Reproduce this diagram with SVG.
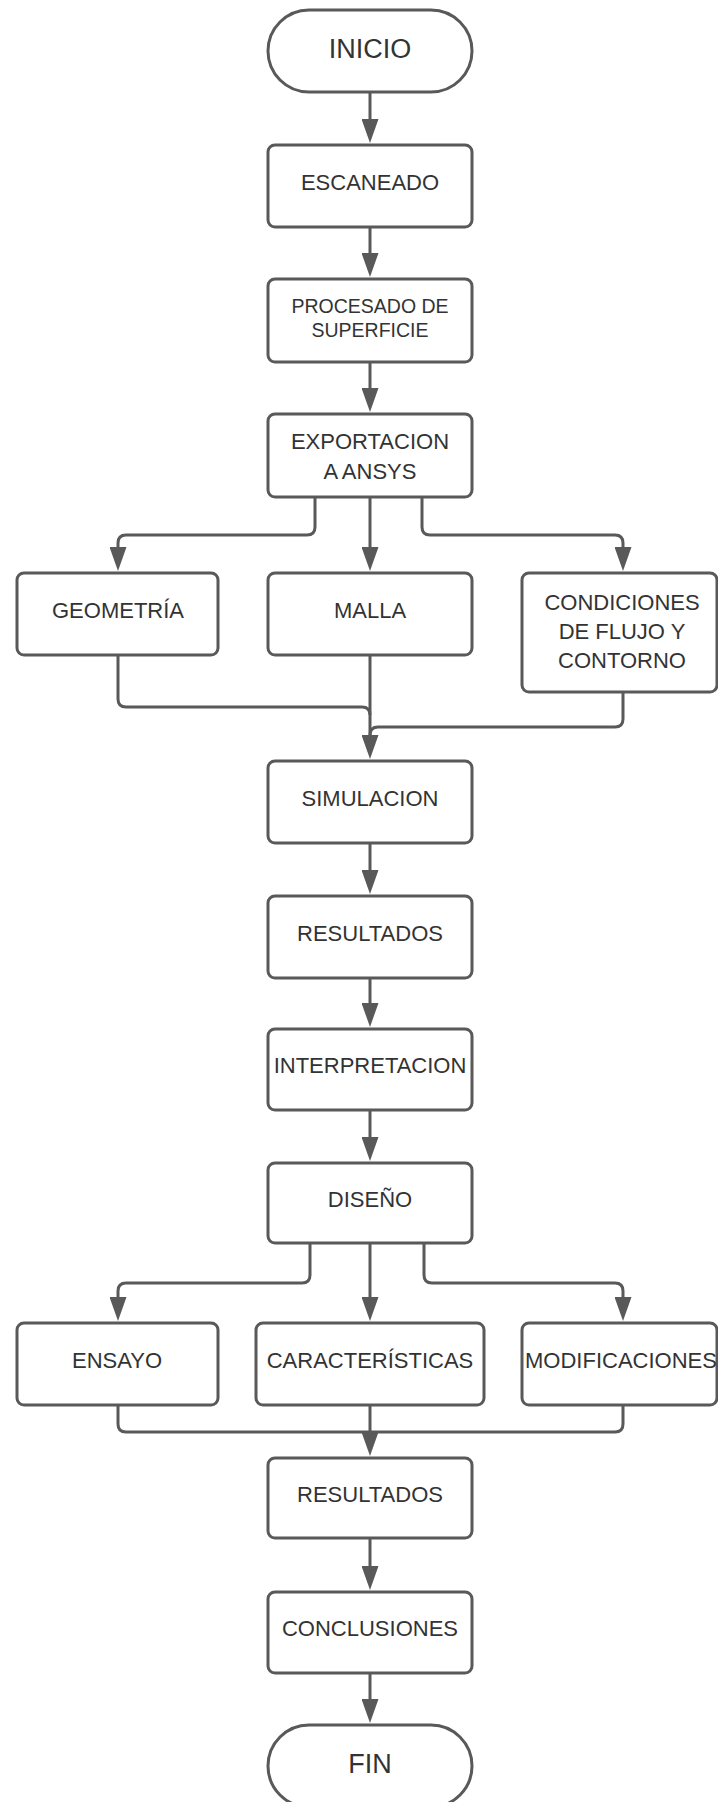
<svg xmlns="http://www.w3.org/2000/svg" width="718" height="1802" viewBox="0 0 718 1802">
<style>
.n{fill:#ffffff;stroke:#595959;stroke-width:3}
.t{font-family:"Liberation Sans",Arial,sans-serif;font-size:22px;fill:#333333;text-anchor:middle}
.tb{font-size:27px}
.ts{font-size:19.5px}
.c{fill:none;stroke:#595959;stroke-width:3}
</style>
<defs>
<marker id="ah" markerUnits="userSpaceOnUse" markerWidth="24" markerHeight="17" viewBox="0 0 24 17" refX="14" refY="8.5" orient="auto">
<path d="M0,0 L24,8.5 L0,17 z" fill="#595959"/>
</marker>
</defs>
<g id="connectors">
<path class="c" d="M370,92 V133" marker-end="url(#ah)"/>
<path class="c" d="M370,227 V267" marker-end="url(#ah)"/>
<path class="c" d="M370,362 V402" marker-end="url(#ah)"/>
<path class="c" d="M370,497 V561" marker-end="url(#ah)"/>
<path class="c" d="M315,497 V527 Q315,535 307,535 H126 Q118,535 118,543 V561" marker-end="url(#ah)"/>
<path class="c" d="M422,497 V527 Q422,535 430,535 H615 Q623,535 623,543 V561" marker-end="url(#ah)"/>
<path class="c" d="M370,655 V749" marker-end="url(#ah)"/>
<path class="c" d="M118,655 V699 Q118,707 126,707 H362 Q370,707 370,715"/>
<path class="c" d="M623,692 V719 Q623,727 615,727 H378 Q370,727 370,735"/>
<path class="c" d="M370,843 V884" marker-end="url(#ah)"/>
<path class="c" d="M370,978 V1017" marker-end="url(#ah)"/>
<path class="c" d="M370,1110 V1151" marker-end="url(#ah)"/>
<path class="c" d="M370,1243 V1311" marker-end="url(#ah)"/>
<path class="c" d="M310,1243 V1275 Q310,1283 302,1283 H126 Q118,1283 118,1291 V1311" marker-end="url(#ah)"/>
<path class="c" d="M424,1243 V1275 Q424,1283 432,1283 H615 Q623,1283 623,1291 V1311" marker-end="url(#ah)"/>
<path class="c" d="M118,1405 V1424 Q118,1432 126,1432 H615 Q623,1432 623,1424 V1405"/>
<path class="c" d="M370,1405 V1446" marker-end="url(#ah)"/>
<path class="c" d="M370,1538 V1580" marker-end="url(#ah)"/>
<path class="c" d="M370,1673 V1713" marker-end="url(#ah)"/>
</g>
<g id="inicio"><rect class="n" x="268" y="10" width="204" height="82" rx="41"/><text class="t tb" x="370" y="58">INICIO</text></g>
<g id="escaneado"><rect class="n" x="268" y="145" width="204" height="82" rx="7"/><text class="t" x="370" y="190">ESCANEADO</text></g>
<g id="procesado"><rect class="n" x="268" y="279" width="204" height="83" rx="7"/><text class="t ts" x="370" y="313">PROCESADO DE</text><text class="t ts" x="370" y="337">SUPERFICIE</text></g>
<g id="exportacion"><rect class="n" x="268" y="414" width="204" height="83" rx="7"/><text class="t" x="370" y="449">EXPORTACION</text><text class="t" x="370" y="479">A ANSYS</text></g>
<g id="geometria"><rect class="n" x="17" y="573" width="201" height="82" rx="7"/><text class="t" x="118" y="618">GEOMETRÍA</text></g>
<g id="malla"><rect class="n" x="268" y="573" width="204" height="82" rx="7"/><text class="t" x="370" y="618">MALLA</text></g>
<g id="condiciones"><rect class="n" x="522" y="573" width="195" height="119" rx="7"/><text class="t" x="622" y="610">CONDICIONES</text><text class="t" x="622" y="639">DE FLUJO Y</text><text class="t" x="622" y="668">CONTORNO</text></g>
<g id="simulacion"><rect class="n" x="268" y="761" width="204" height="82" rx="7"/><text class="t" x="370" y="806">SIMULACION</text></g>
<g id="resultados1"><rect class="n" x="268" y="896" width="204" height="82" rx="7"/><text class="t" x="370" y="941">RESULTADOS</text></g>
<g id="interpretacion"><rect class="n" x="268" y="1029" width="204" height="81" rx="7"/><text class="t" x="370" y="1073">INTERPRETACION</text></g>
<g id="diseno"><rect class="n" x="268" y="1163" width="204" height="80" rx="7"/><text class="t" x="370" y="1207">DISEÑO</text></g>
<g id="ensayo"><rect class="n" x="17" y="1323" width="201" height="82" rx="7"/><text class="t" x="117" y="1368">ENSAYO</text></g>
<g id="caracteristicas"><rect class="n" x="256" y="1323" width="228" height="82" rx="7"/><text class="t" x="370" y="1368">CARACTERÍSTICAS</text></g>
<g id="modificaciones"><rect class="n" x="522" y="1323" width="195" height="82" rx="7"/><text class="t" x="621" y="1368">MODIFICACIONES</text></g>
<g id="resultados2"><rect class="n" x="268" y="1458" width="204" height="80" rx="7"/><text class="t" x="370" y="1502">RESULTADOS</text></g>
<g id="conclusiones"><rect class="n" x="268" y="1592" width="204" height="81" rx="7"/><text class="t" x="370" y="1636">CONCLUSIONES</text></g>
<g id="fin"><rect class="n" x="268" y="1725" width="204" height="82" rx="41"/><text class="t tb" x="370" y="1773">FIN</text></g>
</svg>
